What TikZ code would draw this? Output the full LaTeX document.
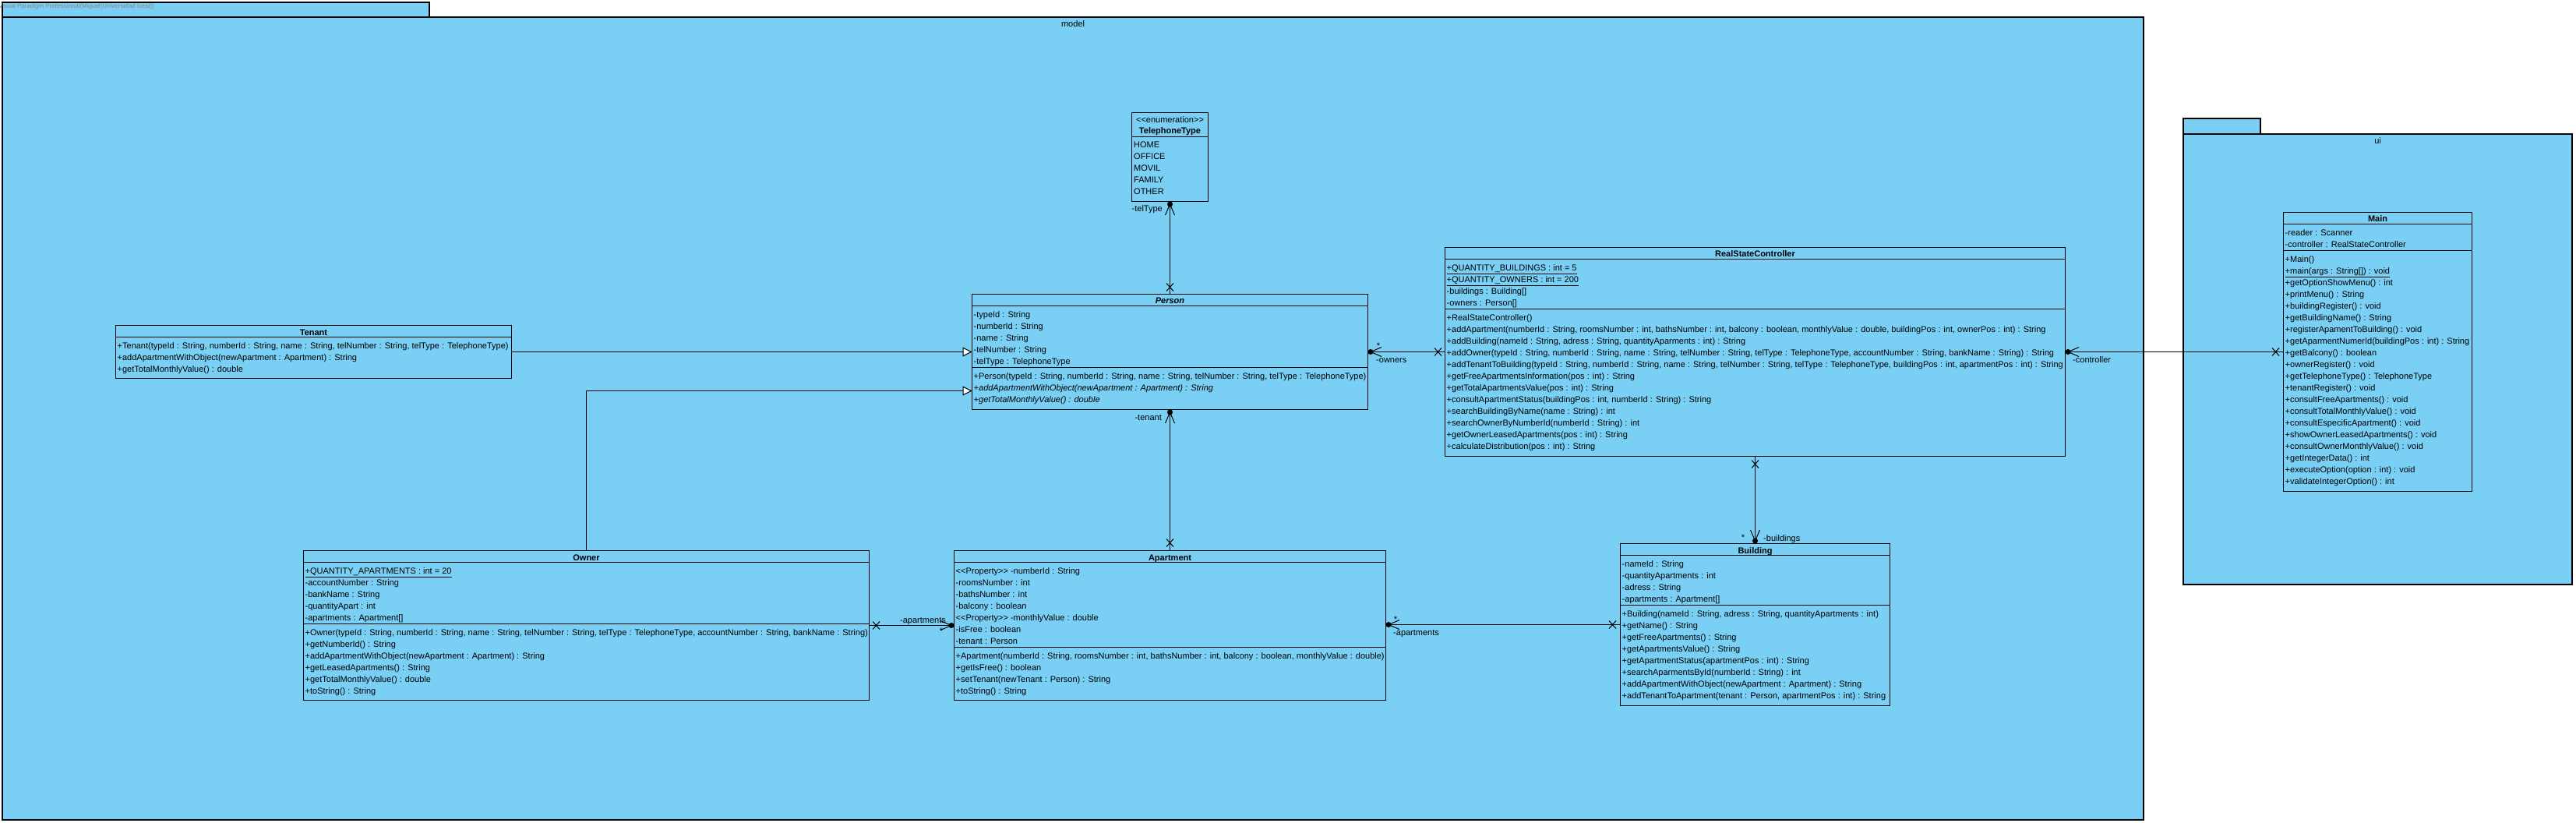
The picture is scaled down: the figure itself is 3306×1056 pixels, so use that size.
\documentclass[tikz,border=0pt]{standalone}
\usepackage{fontspec}
\setmainfont{Liberation Sans}
\usetikzlibrary{arrows.meta,calc}
\definecolor{vpblue}{RGB}{122,207,245}
\definecolor{wm}{RGB}{135,135,135}
\newcommand\cf{\fontsize{11}{15}\selectfont\lineskiplimit=-20pt\relax}
\newcommand\fl{\rule{0pt}{11pt}}
\begin{document}
\begin{tikzpicture}[x=1pt,y=-1pt,
  cls/.style={draw, fill=vpblue, line width=1pt, inner sep=0pt, outer sep=0pt, anchor=north west},
  sepl/.style={line width=1pt},
  pkg/.style={draw, fill=vpblue, line width=1.4pt},
  ttl/.style={anchor=base, inner sep=0pt, font=\cf\bfseries},
  txt/.style={anchor=north west, inner sep=0pt, align=left, font=\cf},
  lbl/.style={inner sep=0pt, font=\cf},
  conn/.style={line width=1pt},
  gen/.style={conn, -{Triangle[length=12pt,width=12pt,fill=white]}},
  xend/.pic={\draw[conn] (-4.5,-5)--(4.5,5) (-4.5,5)--(4.5,-5);},
  navend/.pic={\fill (0,0) circle[radius=3.5pt]; \draw[conn] (14,-6)--(0,0)--(14,6);},
]
\useasboundingbox (0,0) rectangle (3306,1056);
\fill[white] (0,0) rectangle (3306,1056);
\clip (0,0) rectangle (3306,1056);

% packages
\draw[pkg] (3,3) rectangle (551,22);
\draw[pkg] (3,22) rectangle (2751,1052);
\node[inner sep=0pt, anchor=base west, font=\fontsize{8}{9}\selectfont, text=wm] (wmark) at (-2,11) {Visual Paradigm Professional(Miguel(Universidad Icesi))};
\node[lbl, anchor=base] (modellbl) at (1377,34.5) {model};
\draw[pkg] (2802,152) rectangle (2901,172);
\draw[pkg] (2802,172) rectangle (3301,750);
\node[lbl, anchor=base] (uilbl) at (3051.5,185) {ui};

% TelephoneType
\node[cls, minimum width=98pt, minimum height=114pt] (tel) at (1452.5,144.5) {};
\draw[sepl] ([yshift=-31pt]tel.north west) -- ([yshift=-31pt]tel.north east);
\node[lbl, anchor=base] (telst) at (1501.5,157.5) {<{}<enumeration>{}>};
\node[ttl] (telt) at (1501.5,172) {TelephoneType};
\node[txt] (telv) at (1455,178.5) {\fl HOME\\OFFICE\\MOVIL\\FAMILY\\OTHER};

% Tenant
\node[cls, minimum width=508pt, minimum height=68pt] (tenant) at (148.5,417.5) {};
\draw[sepl] ([yshift=-15pt]tenant.north west) -- ([yshift=-15pt]tenant.north east);
\node[ttl] (tenantt) at (402.5,430) {Tenant};
\node[txt] (tenantm) at (150.5,436.5) {\fl +Tenant(typeId : String, numberId : String, name : String, telNumber : String, telType : TelephoneType)\\
+addApartmentWithObject(newApartment : Apartment) : String\\
+getTotalMonthlyValue() : double};

% Person
\node[cls, minimum width=508pt, minimum height=148pt] (person) at (1247.5,377.5) {};
\draw[sepl] ([yshift=-15pt]person.north west) -- ([yshift=-15pt]person.north east);
\draw[sepl] ([yshift=-94pt]person.north west) -- ([yshift=-94pt]person.north east);
\node[ttl, font=\cf\bfseries\itshape] (persont) at (1501.5,390) {Person};
\node[txt] (persona) at (1249.5,396.5) {\fl -typeId : String\\-numberId : String\\-name : String\\-telNumber : String\\-telType : TelephoneType};
\node[txt] (personm) at (1249.5,475.5) {\fl +Person(typeId : String, numberId : String, name : String, telNumber : String, telType : TelephoneType)\\
\textit{+addApartmentWithObject(newApartment : Apartment) : String}\\
\textit{+getTotalMonthlyValue() : double}};

% Owner
\node[cls, minimum width=726pt, minimum height=192pt] (owner) at (389.5,706.5) {};
\draw[sepl] ([yshift=-15pt]owner.north west) -- ([yshift=-15pt]owner.north east);
\draw[sepl] ([yshift=-94pt]owner.north west) -- ([yshift=-94pt]owner.north east);
\node[ttl] (ownert) at (752.5,719) {Owner};
\node[txt] (ownera) at (391.5,725.5) {\fl \underline{+QUANTITY\_APARTMENTS : int = 20}\\-accountNumber : String\\-bankName : String\\-quantityApart : int\\-apartments : Apartment[]};
\node[txt] (ownerm) at (391.5,804.5) {\fl +Owner(typeId : String, numberId : String, name : String, telNumber : String, telType : TelephoneType, accountNumber : String, bankName : String)\\
+getNumberId() : String\\
+addApartmentWithObject(newApartment : Apartment) : String\\
+getLeasedApartments() : String\\
+getTotalMonthlyValue() : double\\
+toString() : String};

% Apartment
\node[cls, minimum width=554pt, minimum height=192pt] (apt) at (1224.5,706.5) {};
\draw[sepl] ([yshift=-15pt]apt.north west) -- ([yshift=-15pt]apt.north east);
\draw[sepl] ([yshift=-124pt]apt.north west) -- ([yshift=-124pt]apt.north east);
\node[ttl] (aptt) at (1501.5,719) {Apartment};
\node[txt] (apta) at (1226.5,725.5) {\fl <{}<Property>{}> -numberId : String\\-roomsNumber : int\\-bathsNumber : int\\-balcony : boolean\\<{}<Property>{}> -monthlyValue : double\\-isFree : boolean\\-tenant : Person};
\node[txt] (aptm) at (1226.5,834.5) {\fl +Apartment(numberId : String, roomsNumber : int, bathsNumber : int, balcony : boolean, monthlyValue : double)\\
+getIsFree() : boolean\\
+setTenant(newTenant : Person) : String\\
+toString() : String};

% Building
\node[cls, minimum width=346pt, minimum height=208pt] (bld) at (2079.5,697.5) {};
\draw[sepl] ([yshift=-15pt]bld.north west) -- ([yshift=-15pt]bld.north east);
\draw[sepl] ([yshift=-79pt]bld.north west) -- ([yshift=-79pt]bld.north east);
\node[ttl] (bldt) at (2252.5,710) {Building};
\node[txt] (blda) at (2081.5,716.5) {\fl -nameId : String\\-quantityApartments : int\\-adress : String\\-apartments : Apartment[]};
\node[txt] (bldm) at (2081.5,780.5) {\fl +Building(nameId : String, adress : String, quantityApartments : int)\\
+getName() : String\\
+getFreeApartments() : String\\
+getApartmentsValue() : String\\
+getApartmentStatus(apartmentPos : int) : String\\
+searchAparmentsById(numberId : String) : int\\
+addApartmentWithObject(newApartment : Apartment) : String\\
+addTenantToApartment(tenant : Person, apartmentPos : int) : String};

% RealStateController
\node[cls, minimum width=796pt, minimum height=268pt] (rsc) at (1854.5,317.5) {};
\draw[sepl] ([yshift=-15pt]rsc.north west) -- ([yshift=-15pt]rsc.north east);
\draw[sepl] ([yshift=-79pt]rsc.north west) -- ([yshift=-79pt]rsc.north east);
\node[ttl] (rsct) at (2252.5,330) {RealStateController};
\node[txt] (rsca) at (1856.5,336.5) {\fl \underline{+QUANTITY\_BUILDINGS : int = 5}\\\underline{+QUANTITY\_OWNERS : int = 200}\\-buildings : Building[]\\-owners : Person[]};
\node[txt] (rscm) at (1856.5,400.5) {\fl +RealStateController()\\
+addApartment(numberId : String, roomsNumber : int, bathsNumber : int, balcony : boolean, monthlyValue : double, buildingPos : int, ownerPos : int) : String\\
+addBuilding(nameId : String, adress : String, quantityAparments : int) : String\\
+addOwner(typeId : String, numberId : String, name : String, telNumber : String, telType : TelephoneType, accountNumber : String, bankName : String) : String\\
+addTenantToBuilding(typeId : String, numberId : String, name : String, telNumber : String, telType : TelephoneType, buildingPos : int, apartmentPos : int) : String\\
+getFreeApartmentsInformation(pos : int) : String\\
+getTotalApartmentsValue(pos : int) : String\\
+consultApartmentStatus(buildingPos : int, numberId : String) : String\\
+searchBuildingByName(name : String) : int\\
+searchOwnerByNumberId(numberId : String) : int\\
+getOwnerLeasedApartments(pos : int) : String\\
+calculateDistribution(pos : int) : String};

% Main
\node[cls, minimum width=242pt, minimum height=358pt] (main) at (2930.5,272.5) {};
\draw[sepl] ([yshift=-15pt]main.north west) -- ([yshift=-15pt]main.north east);
\draw[sepl] ([yshift=-49pt]main.north west) -- ([yshift=-49pt]main.north east);
\node[ttl] (maint) at (3051.5,285) {Main};
\node[txt] (maina) at (2932.5,291.5) {\fl -reader : Scanner\\-controller : RealStateController};
\node[txt] (mainm) at (2932.5,325.5) {\fl +Main()\\
\underline{+main(args : String[]) : void}\\
+getOptionShowMenu() : int\\
+printMenu() : String\\
+buildingRegister() : void\\
+getBuildingName() : String\\
+registerApamentToBuilding() : void\\
+getAparmentNumerId(buildingPos : int) : String\\
+getBalcony() : boolean\\
+ownerRegister() : void\\
+getTelephoneType() : TelephoneType\\
+tenantRegister() : void\\
+consultFreeApartments() : void\\
+consultTotalMonthlyValue() : void\\
+consultEspecificApartment() : void\\
+showOwnerLeasedApartments() : void\\
+consultOwnerMonthlyValue() : void\\
+getIntegerData() : int\\
+executeOption(option : int) : void\\
+validateIntegerOption() : int};

% generalizations
\draw[gen] (tenant.east) -- (tenant.east -| person.west);
\draw[gen] (owner.north) |- ([yshift=-50pt]person.west);

% associations
\draw[conn] (person.north) -- (tel.south);
\pic[rotate=-90] at ($(tel.south)+(0,3.5)$) {navend};
\pic at ($(person.north)+(0,-9)$) {xend};
\node[lbl, anchor=base east] (ltel) at (1492,272) {-telType};

\draw[conn] (person.south) -- (apt.north);
\pic[rotate=-90] at ($(person.south)+(0,3.5)$) {navend};
\pic at ($(apt.north)+(0,-10)$) {xend};
\node[lbl, anchor=base east] (ltenant) at (1491,539.5) {-tenant};

\draw[conn] (person.east |- rsc.west) -- (rsc.west);
\pic at ($(person.east |- rsc.west)+(3.5,0)$) {navend};
\pic at ($(rsc.west)+(-9,0)$) {xend};
\node[lbl, anchor=base west] (lowners) at (1766,465) {-owners};
\node[lbl, anchor=base] (sowners) at (1769,447.5) {*};

\draw[conn] (owner.east) -- (apt.west);
\pic at ($(owner.east)+(9,0)$) {xend};
\pic[rotate=180] at ($(apt.west)+(-3.5,0)$) {navend};
\node[lbl, anchor=base east] (lapt1) at (1214,799.5) {-apartments};
\node[lbl, anchor=base] (sapt1) at (1208,813) {*};

\draw[conn] (bld.west) -- (bld.west -| apt.east);
\pic at ($(bld.west)+(-10,0)$) {xend};
\pic at ($(bld.west -| apt.east)+(3.5,0)$) {navend};
\node[lbl, anchor=base west] (lapt2) at (1788,815) {-apartments};
\node[lbl, anchor=base] (sapt2) at (1791,798) {*};

\draw[conn] (rsc.south) -- (bld.north);
\pic at ($(rsc.south)+(0,10)$) {xend};
\pic[rotate=90] at ($(bld.north)+(0,-3.5)$) {navend};
\node[lbl, anchor=base west] (lbld) at (2263,694.5) {-buildings};
\node[lbl, anchor=base] (sbld) at (2237,693.5) {*};

\draw[conn] (rsc.east) -- (main.west);
\pic at ($(rsc.east)+(3.5,0)$) {navend};
\pic at ($(main.west)+(-10,0)$) {xend};
\node[lbl, anchor=base west] (lctl) at (2660,465) {-controller};
\end{tikzpicture}
\end{document}
